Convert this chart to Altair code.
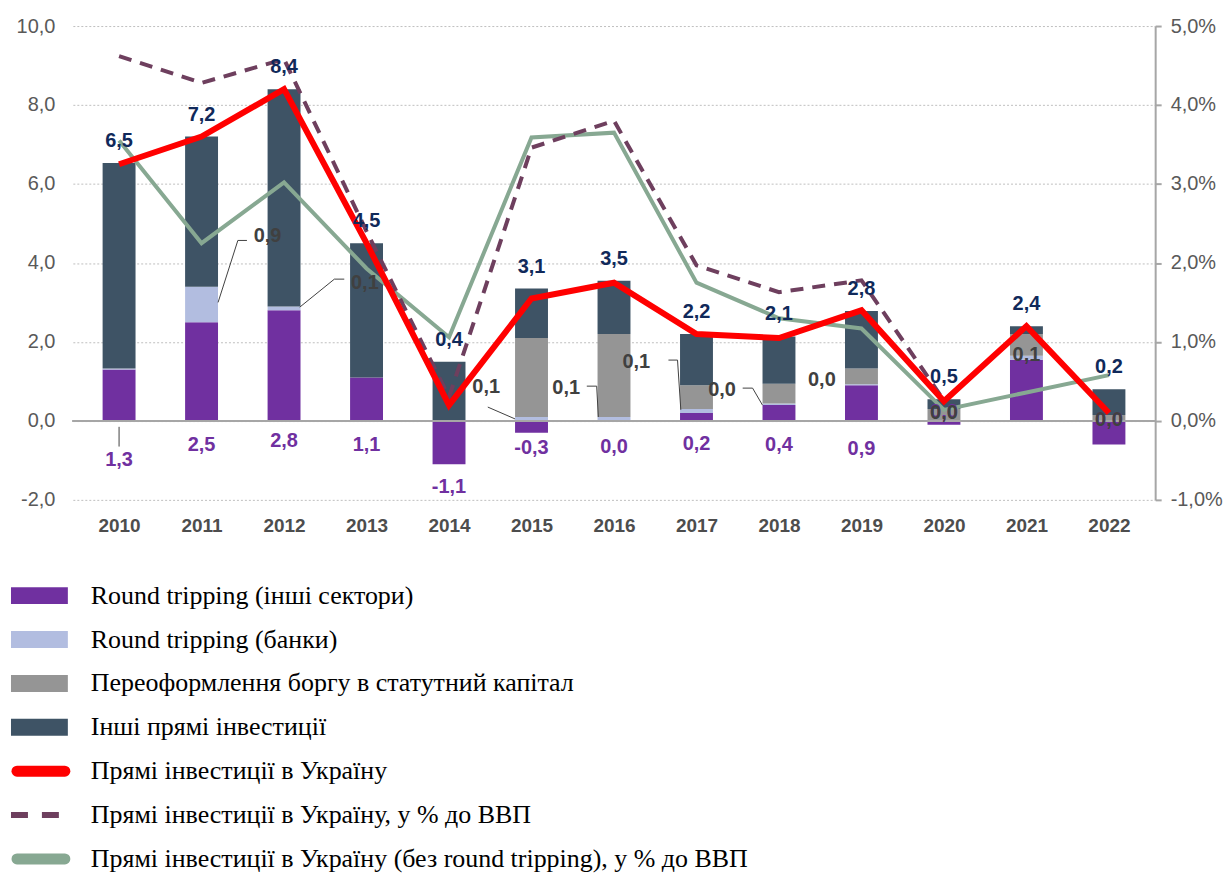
import altair as alt
import pandas as pd

# ---------------- data ----------------
years = list(range(2010, 2023))
rt_other = [1.3, 2.5, 2.8, 1.1, -1.1, -0.3, 0.0, 0.2, 0.4, 0.9, -0.1, 1.55, -0.6]
rt_banks = [0.03, 0.9, 0.1, 0.0, 0.0, 0.1, 0.1, 0.1, 0.04, 0.03, 0.0, 0.1, 0.0]
debt_conv = [0.0, 0.0, 0.0, 0.0, 0.0, 2.0, 2.1, 0.6, 0.5, 0.4, 0.3, 0.55, 0.15]
other_fdi = [5.2, 3.8, 5.5, 3.4, 1.5, 1.25, 1.35, 1.3, 1.2, 1.45, 0.25, 0.2, 0.65]
fdi_total = [6.5, 7.2, 8.4, 4.5, 0.4, 3.1, 3.5, 2.2, 2.1, 2.8, 0.5, 2.4, 0.2]
fdi_pct_gdp = [4.62, 4.28, 4.58, 2.4, 0.3, 3.46, 3.8, 1.97, 1.63, 1.78, 0.26, 1.2, 0.1]
fdi_clean_pct_gdp = [3.55, 2.25, 3.02, 1.93, 1.06, 3.59, 3.65, 1.75, 1.3, 1.17, 0.14, 0.36, 0.58]

series_names = [
    "Round tripping (інші сектори)",
    "Round tripping (банки)",
    "Переоформлення боргу в статутний капітал",
    "Інші прямі інвестиції",
    "Прямі інвестиції в Україну",
    "Прямі інвестиції в Україну, у % до ВВП",
    "Прямі інвестиції в Україну (без round tripping), у % до ВВП",
]
series_kinds = ["bar", "bar", "bar", "bar", "solid", "dashed", "solid"]
series_colors = ["#7030A0", "#B2BDE0", "#959595", "#3E5365", "#FF0000", "#6E3F5E", "#87A892"]

# annotation labels (purple: round tripping other sectors; grey: banks)
purple_lbl_year = [2010, 2011, 2012, 2013, 2014, 2015, 2016, 2017, 2018, 2019, 2020, 2022]
purple_lbl_y = [-0.98, -0.61, -0.51, -0.61, -1.67, -0.68, -0.66, -0.58, -0.61, -0.71, 0.23, 0.03]
purple_lbl_text = ["1,3", "2,5", "2,8", "1,1", "-1,1", "-0,3", "0,0", "0,2", "0,4", "0,9", "0,0", "0,0"]

bank_lbl_year = [2011.80, 2012.98, 2014.45, 2015.42, 2016.27, 2017.31, 2018.52, 2020.0, 2021.0, 2022.0]
bank_lbl_y = [4.67, 3.48, 0.86, 0.83, 1.49, 0.78, 1.04, 0.20, 1.67, 0.03]
bank_lbl_text = ["0,9", "0,1", "0,1", "0,1", "0,1", "0,0", "0,0", "0,0", "0,1", "0,0"]

leader_id = ["a", "a", "a", "b", "b", "b", "c", "c", "d", "d", "d", "e", "e", "e", "f", "f", "f", "g", "g"]
leader_year = [2011.20, 2011.44, 2011.55, 2012.19, 2012.61, 2012.73, 2014.47, 2014.80,
               2015.67, 2015.79, 2015.81, 2016.66, 2016.77, 2016.81, 2017.56, 2017.68, 2017.80,
               2010.0, 2010.0]
leader_y = [3.0, 4.57, 4.57, 2.88, 3.59, 3.59, 0.35, 0.05,
            0.88, 0.88, 0.10, 1.54, 1.54, 0.28, 0.83, 0.83, 0.40,
            -0.15, -0.65]

# ---------------- tables ----------------
components = [rt_other, rt_banks, debt_conv, other_fdi]
bar_rows = []
for k, comp in enumerate(components):
    for yr, v in zip(years, comp):
        bar_rows.append({"year": yr, "series": series_names[k], "value": v, "order": k})
bars_df = pd.DataFrame(bar_rows)

pos_top = [sum(max(c[i], 0) for c in components) for i in range(len(years))]
lines_df = pd.DataFrame({
    "year": years,
    "total": fdi_total,
    "pct": fdi_pct_gdp,
    "pct_clean": fdi_clean_pct_gdp,
    "top": pos_top,
    "label": [f"{v:.1f}".replace(".", ",") for v in fdi_total],
})
purple_df = pd.DataFrame({"year": purple_lbl_year, "y": purple_lbl_y, "label": purple_lbl_text})
bank_df = pd.DataFrame({"year": bank_lbl_year, "y": bank_lbl_y, "label": bank_lbl_text})
leader_df = pd.DataFrame({"id": leader_id, "year": leader_year, "y": leader_y,
                          "idx": list(range(len(leader_id)))})

FONT = "Liberation Sans"

x_scale = alt.Scale(domain=[2009.5, 2022.5], nice=False, zero=False)
x_axis = alt.Axis(values=years, format="d", title=None, domain=False, ticks=False, tickSize=0,
                  labelPadding=17, grid=False, labelFont=FONT, labelFontSize=19,
                  labelFontWeight="bold", labelColor="#4D4D4D", labelFlush=False)


def X(field="year"):
    return alt.X(f"{field}:Q", scale=x_scale, axis=x_axis)


left_scale = alt.Scale(domain=[-2, 10], nice=False, zero=False)
right_scale = alt.Scale(domain=[-1, 5], nice=False, zero=False)

left_axis = alt.Axis(values=[-2, 0, 2, 4, 6, 8, 10], orient="left", title=None,
                     labelExpr="replace(replace(format(datum.value,'.1f'),'.',','),'\u2212','-')",
                     domain=False, ticks=False, tickSize=0, labelPadding=18,
                     grid=True, gridDash=[2, 2], gridColor="#BFBFBF", gridWidth=1,
                     labelFont=FONT, labelFontSize=20, labelColor="#595959")
right_axis = alt.Axis(values=[-1, 0, 1, 2, 3, 4, 5], orient="right", title=None,
                      labelExpr="replace(replace(format(datum.value,'.1f'),'.',','),'\u2212','-') + '%'",
                      domain=True, domainColor="#A6A6A6", domainWidth=2,
                      ticks=True, tickSize=6, tickColor="#A6A6A6", tickWidth=2, labelPadding=9,
                      grid=False, labelFont=FONT, labelFontSize=20, labelColor="#595959")

# ---------------- bars group (left axis) ----------------
bars = alt.Chart(bars_df).mark_bar(size=33, orient="vertical").encode(
    x=X(),
    y=alt.Y("value:Q", stack="zero", scale=left_scale, axis=left_axis),
    color=alt.Color("series:N", scale=alt.Scale(domain=series_names[:4], range=series_colors[:4]),
                    legend=None),
    order=alt.Order("order:Q", sort="ascending"),
)
zero_rule = alt.Chart(lines_df).mark_rule(color="#A6A6A6", strokeWidth=2).encode(
    y=alt.Y("zero:Q", scale=left_scale, axis=left_axis),
).transform_calculate(zero="0")
bars_group = alt.layer(bars, zero_rule)

# ---------------- right axis lines ----------------
green = alt.Chart(lines_df).mark_line(color=series_colors[6], strokeWidth=4).encode(
    x=X(), y=alt.Y("pct_clean:Q", scale=right_scale, axis=right_axis))
dashed = alt.Chart(lines_df).mark_line(color=series_colors[5], strokeWidth=4,
                                       strokeDash=[13, 9]).encode(
    x=X(), y=alt.Y("pct:Q", scale=right_scale, axis=right_axis))
right_group = alt.layer(green, dashed)

# ---------------- top group (left scale, no axis) ----------------
red = alt.Chart(lines_df).mark_line(color=series_colors[4], strokeWidth=6).encode(
    x=X(), y=alt.Y("total:Q", scale=left_scale, axis=None))
leaders = alt.Chart(leader_df).mark_line(color="#404040", strokeWidth=1).encode(
    x=X(), y=alt.Y("y:Q", scale=left_scale, axis=None), detail="id:N", order="idx:Q")
totals_txt = alt.Chart(lines_df).mark_text(font=FONT, fontSize=20, fontWeight="bold",
                                           color="#10295A", dy=-22).encode(
    x=X(), y=alt.Y("top:Q", scale=left_scale, axis=None), text="label:N")
purple_txt = alt.Chart(purple_df).mark_text(font=FONT, fontSize=20, fontWeight="bold",
                                            color="#7030A0").encode(
    x=X(), y=alt.Y("y:Q", scale=left_scale, axis=None), text="label:N")
bank_txt = alt.Chart(bank_df).mark_text(font=FONT, fontSize=20, fontWeight="bold",
                                        color="#404040").encode(
    x=X(), y=alt.Y("y:Q", scale=left_scale, axis=None), text="label:N")
top_group = alt.layer(leaders, red, totals_txt, purple_txt, bank_txt)

main = alt.layer(bars_group, right_group, top_group).resolve_scale(y="independent").properties(
    width=1085, height=475)

# ---------------- legend ----------------
legend_df = pd.DataFrame({"name": series_names, "kind": series_kinds})
ly = alt.Y("name:N", sort=series_names, axis=None,
           scale=alt.Scale(domain=series_names, paddingInner=0, paddingOuter=0))
lcolor = alt.Color("name:N", scale=alt.Scale(domain=series_names, range=series_colors), legend=None)

leg_rect = alt.Chart(legend_df).transform_filter("datum.kind == 'bar'").mark_bar(
    size=17, orient="horizontal").encode(y=ly, x=alt.value(-62), x2=alt.value(-5), color=lcolor)
leg_solid = alt.Chart(legend_df).transform_filter("datum.kind == 'solid'").mark_rule(
    strokeWidth=11, strokeCap="round").encode(y=ly, x=alt.value(-56), x2=alt.value(-8), color=lcolor)
leg_dash = alt.Chart(legend_df).transform_filter("datum.kind == 'dashed'").mark_rule(
    strokeWidth=6, strokeDash=[17, 14]).encode(y=ly, x=alt.value(-62), x2=alt.value(-14), color=lcolor)
leg_text = alt.Chart(legend_df).mark_text(font="Liberation Serif", fontSize=26, color="#000000",
                                          align="left", baseline="middle").encode(
    y=ly, x=alt.value(18), text="name:N")
legend = alt.layer(leg_rect, leg_solid, leg_dash, leg_text).properties(width=720, height=308)

chart = alt.vconcat(main, legend, spacing=38).properties(
    padding={"left": 0, "top": 7, "right": 0, "bottom": 0}
).resolve_scale(color="independent").configure_view(stroke=None)

chart.save("out.html", embed_options={"renderer": "svg", "actions": False})
